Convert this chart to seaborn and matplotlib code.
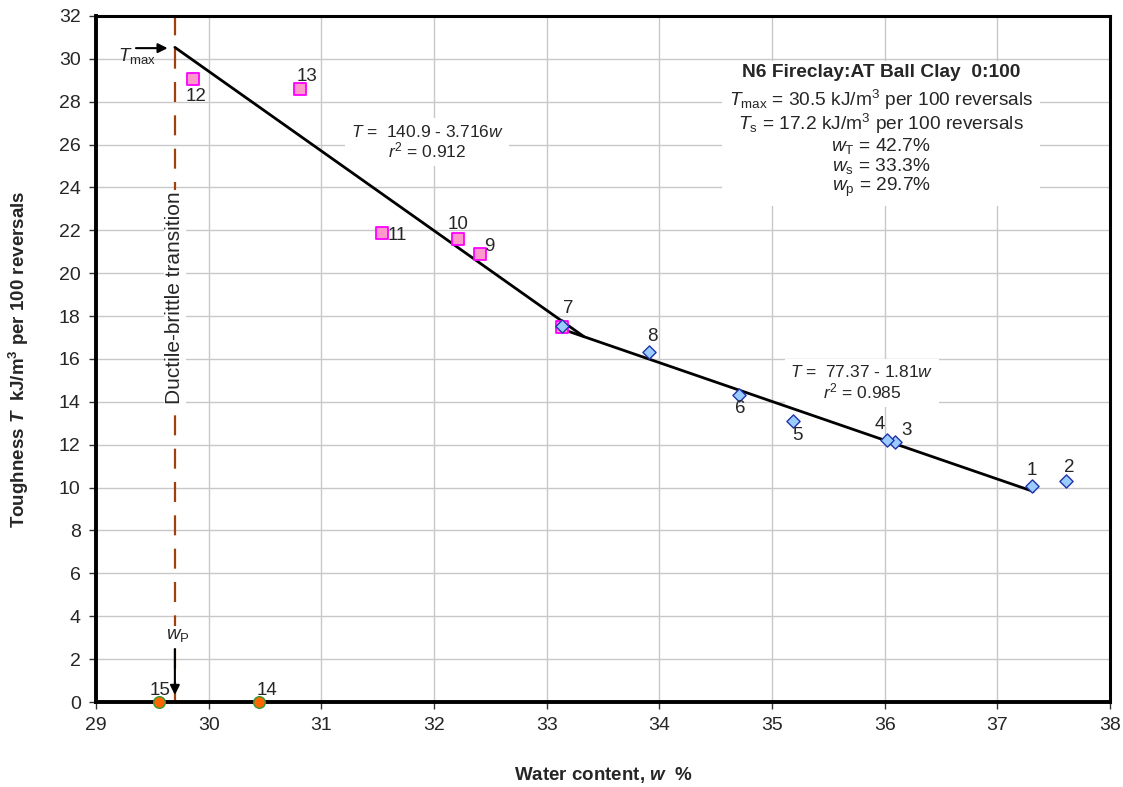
import numpy as np
import pandas as pd
import matplotlib
matplotlib.use("Agg")
import matplotlib.pyplot as plt
import seaborn as sns

# data
blue_w = [37.31, 37.61, 36.09, 36.02, 35.19, 34.71, 33.14, 33.91]
blue_T = [10.07, 10.30, 12.13, 12.20, 13.10, 14.30, 17.55, 16.31]
blue_ids = ["1", "2", "3", "4", "5", "6", "7", "8"]

pink_w = [32.41, 32.21, 31.54, 29.86, 30.81, 33.14]
pink_T = [20.88, 21.58, 21.89, 29.06, 28.60, 17.50]
pink_ids = ["9", "10", "11", "12", "13", ""]

zero_w = [30.45, 29.56]
zero_T = [0.0, 0.0]
zero_ids = ["14", "15"]

# fitted lines: T = a + b*w over a range of w
fit1 = (140.9, -3.716)
fit2 = (77.37, -1.81)
w_p = 29.7
w_s = (fit1[0] - fit2[0]) / (fit2[1] - fit1[1])
fit1_range = [w_p, w_s]
fit2_range = [33.14, 37.32]

# label offsets (pixels) for each numbered point
label_offsets = {
    "1": (0, 16), "2": (3, 14), "3": (12, 11), "4": (-7, 16),
    "5": (4, -14), "6": (1, -13), "7": (6, 17), "8": (3, 16),
    "9": (9, 8), "10": (0, 15), "11": (15, -3), "12": (3, -17),
    "13": (7, 12), "14": (8, 12), "15": (1, 12),
}

sns.set_style("white")
plt.rcParams["font.family"] = ["Liberation Sans", "DejaVu Sans"]
plt.rcParams["mathtext.fontset"] = "custom"
plt.rcParams["mathtext.rm"] = "Liberation Sans"
plt.rcParams["mathtext.it"] = "Liberation Sans:italic"
plt.rcParams["mathtext.bf"] = "Liberation Sans:bold"
plt.rcParams["mathtext.bfit"] = "Liberation Sans:bold:italic"

fig = plt.figure(figsize=(11.23, 7.87), dpi=100)
ax = fig.add_axes([0.0855, 0.108, 0.9029, 0.8717])

ax.set_xlim(29, 38)
ax.set_ylim(0, 32)
ax.set_xticks(np.arange(29, 39, 1))
ax.set_yticks(np.arange(0, 33, 2))
ax.grid(True, color="#c8c8c8", lw=1)
ax.set_axisbelow(True)
ax.tick_params(direction="out", length=5, width=1, labelsize=14, pad=6,
               color="#333333", left=True, bottom=True)
for s in ["left", "bottom"]:
    ax.spines[s].set_linewidth(2.8)
for s in ["top", "right"]:
    ax.spines[s].set_linewidth(2.2)
for s in ax.spines.values():
    s.set_color("black")

# ductile-brittle transition line
ax.axvline(w_p, color="#a0400f", lw=1.6, dashes=(9, 6), zorder=2)

# trend lines
x1 = np.array(fit1_range)
x2 = np.array(fit2_range)
sns.lineplot(x=x1, y=fit1[0] + fit1[1] * x1, color="black", lw=2, ax=ax, zorder=4)
sns.lineplot(x=x2, y=fit2[0] + fit2[1] * x2, color="black", lw=2, ax=ax, zorder=4)

# markers
sns.scatterplot(x=pink_w, y=pink_T, marker="s", s=66, color="#ff99cc",
                edgecolor="#ff00ff", linewidth=1.3, ax=ax, zorder=5)
sns.scatterplot(x=blue_w, y=blue_T, marker="D", s=45, color="#99ccff",
                edgecolor="#2233aa", linewidth=1.0, ax=ax, zorder=6)
sns.scatterplot(x=zero_w, y=zero_T, marker="o", s=70, color="#ff6600",
                edgecolor="#339933", linewidth=1.0, ax=ax, zorder=7, clip_on=False)

for ws, ts, ids in [(blue_w, blue_T, blue_ids), (pink_w, pink_T, pink_ids),
                    (zero_w, zero_T, zero_ids)]:
    for w, t, lab in zip(ws, ts, ids):
        if not lab:
            continue
        dx, dy = label_offsets[lab]
        ax.annotate(lab, (w, t), xytext=(dx, dy), textcoords="offset pixels",
                    ha="center", va="center", fontsize=13.5, zorder=8)

# annotations
ax.text(w_p, 18.85, "Ductile-brittle transition", rotation=90, ha="center",
        va="center", fontsize=15, zorder=3,
        bbox=dict(facecolor="white", edgecolor="none", pad=1))
ax.annotate("", xy=(29.66, 30.5), xytext=(29.33, 30.5),
            arrowprops=dict(arrowstyle="-|>", color="black", lw=1.5,
                            mutation_scale=14))
ax.text(29.36, 30.12, r"$T_{\mathrm{max}}$", ha="center", va="center", fontsize=13.5)
ax.annotate("", xy=(w_p, 0.2), xytext=(w_p, 2.6),
            arrowprops=dict(arrowstyle="-|>", color="black", lw=1.5,
                            mutation_scale=14), zorder=6)
ax.text(29.73, 3.1, r"$w_{\mathrm{P}}$", ha="center", va="center", fontsize=13.5,
        zorder=6, bbox=dict(facecolor="white", edgecolor="none", pad=1))

ax.text(35.97, 29.37, "N6 Fireclay:AT Ball Clay  0:100", ha="center", va="center",
        fontsize=13.8, fontweight="bold", zorder=3,
        bbox=dict(facecolor="white", edgecolor="none", pad=2))
info = (r"$T_{\mathrm{max}}$ = 30.5 kJ/m$^3$ per 100 reversals" + "\n" +
        r"$T_{\mathrm{s}}$ = 17.2 kJ/m$^3$ per 100 reversals" + "\n" +
        r"$w_{\mathrm{T}}$ = 42.7%" + "\n" +
        r"$w_{\mathrm{s}}$ = 33.3%" + "\n" +
        r"$w_{\mathrm{p}}$ = 29.7%")
ax.text(35.97, 26.05, info, ha="center", va="center", multialignment="center",
        fontsize=13.8, linespacing=1.0, zorder=3,
        bbox=dict(facecolor="white", edgecolor="none", pad=5))

ax.text(31.94, 26.12, "$T$ =  140.9 - 3.716$w$\n$r^2$ = 0.912", ha="center",
        va="center", multialignment="center", fontsize=12.5, linespacing=1.05,
        zorder=3, bbox=dict(facecolor="white", edgecolor="none", pad=4))
ax.text(35.8, 14.9, "$T$ =  77.37 - 1.81$w$\n$r^2$ = 0.985", ha="center",
        va="center", multialignment="center", fontsize=12.5, linespacing=1.05,
        zorder=3, bbox=dict(facecolor="white", edgecolor="none", pad=4))

ax.set_xlabel(r"Water content, $\mathbfit{w}$  %", fontsize=13.5,
              fontweight="bold", labelpad=22)
ax.set_ylabel(r"Toughness $\mathbfit{T}$  kJ/m$\mathbf{^3}$ per 100 reversals",
              fontsize=13.5, fontweight="bold", labelpad=20)

fig.savefig("out.png", dpi=100)
